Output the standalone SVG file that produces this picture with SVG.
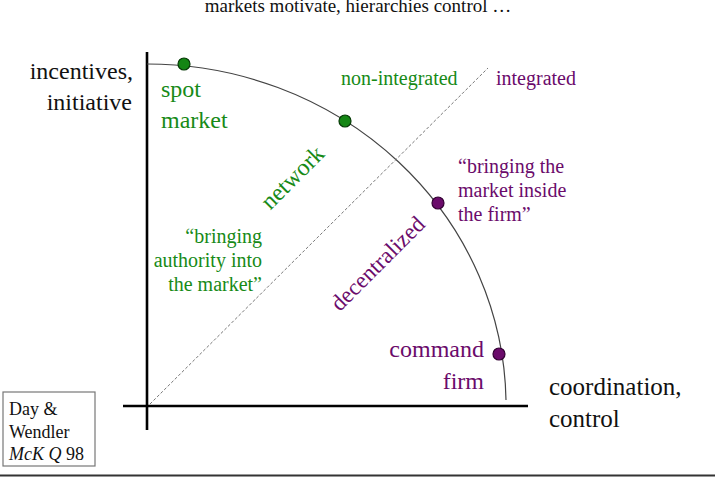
<svg xmlns="http://www.w3.org/2000/svg" width="715" height="477" viewBox="0 0 715 477">
<style>
text{font-family:"Liberation Serif","Times New Roman",serif;}
.big{font-size:24px;fill:#111;}
.g{fill:#178a17;}
.p{fill:#6b0b6b;}
.m{font-size:20px;}
.l{font-size:24px;}
.gd{fill:#148614;stroke:#063a06;stroke-width:1.2;}
.pd{fill:#6b0b6b;stroke:#330033;stroke-width:1.2;}
.ax{stroke:#000;stroke-width:2.6;fill:none;}
</style>
<rect width="715" height="477" fill="#fff"/>
<text x="358" y="12" text-anchor="middle" style="font-size:19px;fill:#111">markets motivate, hierarchies control …</text>
<g id="connectors">
<line class="ax" x1="147" y1="52" x2="147" y2="430"/>
<line class="ax" x1="123" y1="406" x2="528" y2="406"/>
<path d="M147,64 A359,342 0 0 1 506,400" fill="none" stroke="#444" stroke-width="1.2"/>
<line x1="150" y1="404" x2="488" y2="68" stroke="#777" stroke-width="1" stroke-dasharray="3,2"/>
</g>
<g id="axis-y-label">
<text class="big" x="133" y="79" text-anchor="end">incentives,</text>
<text class="big" x="132" y="110" text-anchor="end">initiative</text>
</g>
<g id="axis-x-label">
<text class="big" x="549" y="395" style="font-size:25px">coordination,</text>
<text class="big" x="549" y="427" style="font-size:25px">control</text>
</g>
<g id="spot-market">
<circle class="gd" cx="184" cy="64" r="6"/>
<text class="g l" x="161" y="97">spot</text>
<text class="g l" x="161" y="128">market</text>
</g>
<g id="network">
<circle class="gd" cx="345" cy="121" r="6"/>
<text class="g l" x="298" y="183" text-anchor="middle" transform="rotate(-45 298 183)">network</text>
</g>
<g id="market-inside">
<circle class="pd" cx="438" cy="203" r="6"/>
<text class="p m" x="458" y="173">“bringing the</text>
<text class="p m" x="458" y="197">market inside</text>
<text class="p m" x="458" y="221">the firm”</text>
</g>
<g id="decentralized">
<text class="p" x="383" y="269" text-anchor="middle" transform="rotate(-45 383 269)" style="font-size:23px">decentralized</text>
</g>
<g id="command-firm">
<circle class="pd" cx="499" cy="354" r="6"/>
<text class="p l" x="484" y="357" text-anchor="end">command</text>
<text class="p l" x="484" y="389" text-anchor="end">firm</text>
</g>
<g id="authority">
<text class="g m" x="262" y="243" text-anchor="end">“bringing</text>
<text class="g m" x="262" y="267" text-anchor="end">authority into</text>
<text class="g m" x="262" y="291" text-anchor="end">the market”</text>
</g>
<g id="labels">
<text class="g m" x="341" y="85">non-integrated</text>
<text class="p m" x="496" y="85">integrated</text>
</g>
<g id="citation">
<rect x="3" y="392" width="92" height="74" fill="#fff" stroke="#777" stroke-width="1.2"/>
<text x="9" y="415" style="font-size:18px;fill:#111">Day &amp;</text>
<text x="9" y="438" style="font-size:18px;fill:#111">Wendler</text>
<text x="9" y="460" style="font-size:18px;fill:#111"><tspan font-style="italic">McK Q</tspan> 98</text>
</g>
<line x1="0" y1="475.5" x2="715" y2="475.5" stroke="#333" stroke-width="2"/>
</svg>
